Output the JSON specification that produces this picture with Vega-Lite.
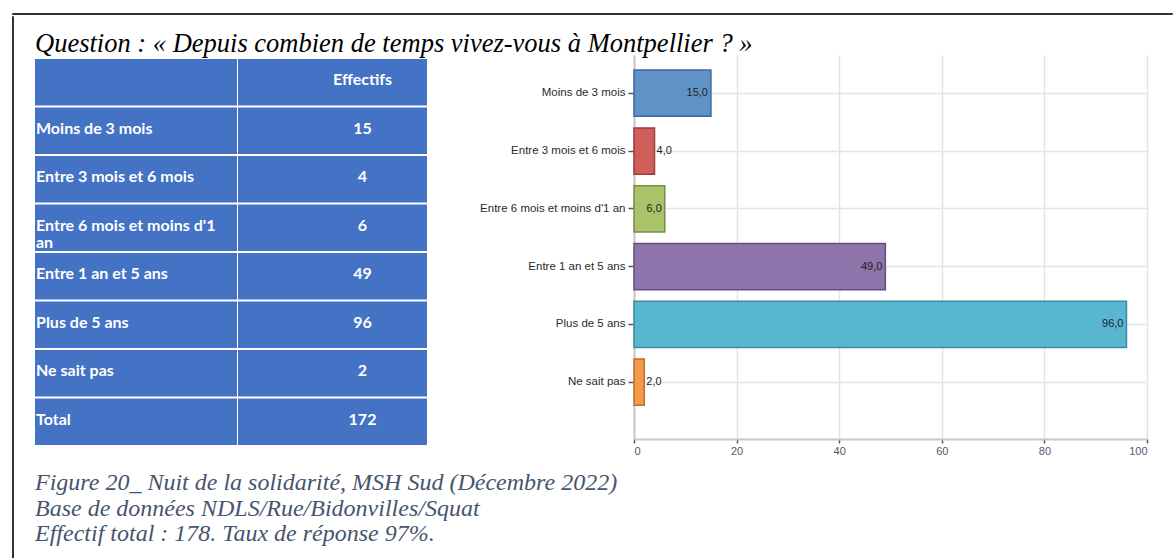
{
  "$schema": "https://vega.github.io/schema/vega-lite/v6.json",
  "padding": {"left": 11, "top": 12, "right": 0, "bottom": 0},
  "background": "white",
  "datasets": {
    "table": [
      {"ordre": 0, "libelle": "", "effectif": "Effectifs"},
      {"ordre": 1, "libelle": "Moins de 3 mois", "effectif": "15"},
      {"ordre": 2, "libelle": "Entre 3 mois et 6 mois", "effectif": "4"},
      {"ordre": 3, "libelle": "Entre 6 mois et moins d'1\nan", "effectif": "6"},
      {"ordre": 4, "libelle": "Entre 1 an et 5 ans", "effectif": "49"},
      {"ordre": 5, "libelle": "Plus de 5 ans", "effectif": "96"},
      {"ordre": 6, "libelle": "Ne sait pas", "effectif": "2"},
      {"ordre": 7, "libelle": "Total", "effectif": "172"}
    ],
    "bars": [
      {"categorie": "Moins de 3 mois", "effectif": 15},
      {"categorie": "Entre 3 mois et 6 mois", "effectif": 4},
      {"categorie": "Entre 6 mois et moins d'1 an", "effectif": 6},
      {"categorie": "Entre 1 an et 5 ans", "effectif": 49},
      {"categorie": "Plus de 5 ans", "effectif": 96},
      {"categorie": "Ne sait pas", "effectif": 2}
    ]
  },
  "vconcat": [
    {
      "width": 1160, "height": 1,
      "data": {"values": []},
      "mark": "point",
      "view": {"stroke": "#333333", "strokeWidth": 1}
    },
    {
      "hconcat": [
        {
          "width": 1, "height": 542,
          "data": {"values": []},
          "mark": "point",
          "view": {"stroke": "#333333", "strokeWidth": 1}
        },
        {
          "vconcat": [
            {
              "width": 1, "height": 1,
              "data": {"values": []},
              "mark": "point"
            },
            {
              "vconcat": [
                {
                  "hconcat": [
                    {
                      "hconcat": [
                        {
                          "width": 202, "height": 394,
                          "data": {"name": "table"},
                          "encoding": {
                            "y": {"field": "ordre", "type": "ordinal", "axis": null,
                              "scale": {"paddingInner": 0.04, "paddingOuter": 0.0825}}
                          },
                          "layer": [
                            {"mark": {"type": "rect", "fill": "#4472C4"}},
                            {"mark": {"type": "text", "align": "left", "baseline": "middle", "dx": -100, "dy": -2,
                              "font": "Lato", "fontWeight": "bold", "fontSize": 16, "color": "white",
                              "lineBreak": "\n", "lineHeight": 17},
                             "encoding": {"text": {"field": "libelle"}}}
                          ]
                        },
                        {
                          "width": 189, "height": 394,
                          "data": {"name": "table"},
                          "encoding": {
                            "y": {"field": "ordre", "type": "ordinal", "axis": null,
                              "scale": {"paddingInner": 0.04, "paddingOuter": 0.0825}}
                          },
                          "layer": [
                            {"mark": {"type": "rect", "fill": "#4472C4"}},
                            {"mark": {"type": "text", "align": "center", "baseline": "middle", "dx": 30, "dy": -2,
                              "font": "Lato", "fontWeight": "bold", "fontSize": 16, "color": "white"},
                             "encoding": {"text": {"field": "effectif"}}}
                          ]
                        }
                      ],
                      "spacing": 1
                    },
                    {
                      "width": 513, "height": 384,
                      "data": {"name": "bars"},
                      "encoding": {
                        "y": {"field": "categorie", "type": "nominal", "sort": null,
                          "scale": {"paddingInner": 0.2, "paddingOuter": 0.422, "align": 0.31},
                          "axis": {"title": null, "labelFont": "Liberation Sans", "labelFontSize": 11.5,
                            "labelColor": "#2b2b2b", "tickColor": "#555555", "tickSize": 6, "tickWidth": 1.5,
                            "domainColor": "#c8c8c8", "domainWidth": 2, "grid": true, "gridColor": "#e4e4e4",
                            "gridWidth": 1.5, "bandPosition": 0.5, "labelPadding": 3, "labelLimit": 200,
                            "minExtent": 157, "maxExtent": 157}},
                        "x": {"field": "effectif", "type": "quantitative",
                          "scale": {"domain": [0, 100], "nice": false},
                          "axis": {"title": null, "values": [0, 20, 40, 60, 80, 100],
                            "labelFont": "Liberation Sans", "labelFontSize": 11, "labelColor": "#55596a",
                            "tickColor": "#555555", "tickSize": 4, "tickWidth": 1.5,
                            "domainColor": "#c8c8c8", "domainWidth": 2,
                            "grid": true, "gridColor": "#e4e4e4", "gridWidth": 1.5, "labelPadding": 2}}
                      },
                      "layer": [
                        {
                          "mark": {"type": "bar", "strokeWidth": 1.5},
                          "encoding": {
                            "color": {"field": "categorie", "type": "nominal", "legend": null,
                              "scale": {"domain": ["Moins de 3 mois", "Entre 3 mois et 6 mois", "Entre 6 mois et moins d'1 an", "Entre 1 an et 5 ans", "Plus de 5 ans", "Ne sait pas"],
                                "range": ["#5f93c7", "#cf5f5a", "#a9c36b", "#8e74ab", "#58b6d0", "#f29c4b"]}},
                            "stroke": {"field": "categorie", "type": "nominal", "legend": null,
                              "scale": {"domain": ["Moins de 3 mois", "Entre 3 mois et 6 mois", "Entre 6 mois et moins d'1 an", "Entre 1 an et 5 ans", "Plus de 5 ans", "Ne sait pas"],
                                "range": ["#41699a", "#9b3d39", "#7a8e47", "#64507f", "#3c8ba1", "#b9712d"]}}
                          }
                        },
                        {
                          "transform": [{"filter": "datum.effectif >= 6"}],
                          "mark": {"type": "text", "align": "right", "baseline": "middle", "dx": -3,
                            "font": "Liberation Sans", "fontSize": 11, "color": "#222222"},
                          "encoding": {"text": {"field": "effectif", "type": "quantitative", "format": ".1f"}}
                        },
                        {
                          "transform": [{"filter": "datum.effectif < 6"}],
                          "mark": {"type": "text", "align": "left", "baseline": "middle", "dx": 2,
                            "font": "Liberation Sans", "fontSize": 11, "color": "#222222"},
                          "encoding": {"text": {"field": "effectif", "type": "quantitative", "format": ".1f"}}
                        }
                      ]
                    }
                  ],
                  "spacing": 50,
                  "title": {"text": "Question : « Depuis combien de temps vivez-vous à Montpellier ? »",
                    "anchor": "start", "font": "Liberation Serif", "fontStyle": "italic", "fontWeight": "normal",
                    "fontSize": 26.5, "color": "#000000", "offset": -2}
                }
              ],
              "title": {"text": ["Figure 20_ Nuit de la solidarité, MSH Sud (Décembre 2022)", "Base de données NDLS/Rue/Bidonvilles/Squat", "Effectif total : 178. Taux de réponse 97%."],
                "orient": "bottom", "anchor": "start", "font": "Liberation Serif", "fontStyle": "italic",
                "fontWeight": "normal", "fontSize": 24, "color": "#46546e", "lineHeight": 25.5, "offset": 15}
            }
          ],
          "spacing": 13
        }
      ],
      "spacing": 21
    }
  ],
  "spacing": 0,
  "config": {
    "font": "Liberation Sans",
    "view": {"stroke": null},
    "locale": {"number": {"decimal": ",", "thousands": " ", "grouping": [3], "currency": ["", " €"]}}
  }
}
